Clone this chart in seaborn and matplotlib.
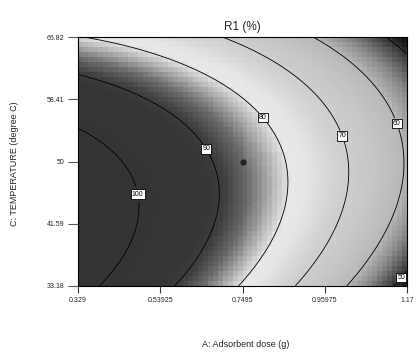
import numpy as np
import matplotlib
matplotlib.use("Agg")
import matplotlib.pyplot as plt
from matplotlib.colors import LinearSegmentedColormap
import seaborn as sns

# axis ticks (actual units)
dose_ticks = [0.329, 0.53925, 0.7495, 0.95975, 1.17]
temp_ticks = [33.18, 41.59, 50, 58.41, 66.82]
dose_labels = ["0.329", "0.53925", "0.7495", "0.95975", "1.17"]
temp_labels = ["33.18", "41.59", "50", "58.41", "66.82"]

# R1 (%) read at each tick crossing; rows = temperature low->high, cols = dose low->high
r1_grid = [
    [102.5, 91.9, 79.2, 64.4, 47.5],
    [106.4, 97.1, 85.7, 72.1, 56.5],
    [104.3, 96.2, 86.0, 73.7, 59.3],
    [95.2, 89.0, 80.3, 69.2, 56.1],
    [79.6, 75.4, 68.4, 58.6, 46.7],
]
levels = [50, 60, 70, 80, 90, 100]
center_dose = [0.7495]
center_temp = [50]
label_spots = [(0.482, 45.6), (0.666, 52.0), (0.802, 56.0),
               (1.012, 53.6), (1.152, 55.3), (1.147, 34.7)]

# grey shading used by the design software (value -> grey level)
shade_vals = [46.5, 48, 52, 56, 60, 66, 72, 77, 79.5, 82, 86, 89.5, 92, 107]
shade_grey = [0.05, 0.10, 0.32, 0.55, 0.72, 0.78, 0.82, 0.90, 0.91, 0.74, 0.42, 0.24, 0.21, 0.20]

sns.set_theme(style="white")
plt.rcParams['font.family'] = ['Liberation Sans', 'DejaVu Sans']

# quadratic response surface through the read values (coded -1..1)
ca, cc = np.meshgrid(np.linspace(-1, 1, 5), np.linspace(-1, 1, 5))
def terms(a, c):
    return np.column_stack([np.ones(a.size), a.ravel(), c.ravel(), (a * c).ravel(),
                            (a ** 2).ravel(), (c ** 2).ravel()])
coef = np.linalg.lstsq(terms(ca, cc), np.array(r1_grid).ravel(), rcond=None)[0]

def to_coded(d, t):
    return (d - 0.7495) / 0.4205, (t - 50) / 16.82

def surface(d, t):
    a, c = to_coded(d, t)
    return (terms(a, c) @ coef).reshape(a.shape)

lo, hi = shade_vals[0], shade_vals[-1]
cmap = LinearSegmentedColormap.from_list(
    "de_grey", [((v - lo) / (hi - lo), (g, g, g)) for v, g in zip(shade_vals, shade_grey)])

fig = plt.figure(figsize=(4.19, 3.56), dpi=100)
ax = fig.add_axes([78 / 419, 70 / 356, 329 / 419, 249 / 356])

# blocky shaded cells
de = np.linspace(dose_ticks[0], dose_ticks[-1], 67)
te = np.linspace(temp_ticks[0], temp_ticks[-1], 51)
dm, tm = np.meshgrid((de[:-1] + de[1:]) / 2, (te[:-1] + te[1:]) / 2)
ax.pcolormesh(de, te, surface(dm, tm), cmap=cmap, vmin=lo, vmax=hi, shading='flat')

# contour lines
df, tf = np.meshgrid(np.linspace(dose_ticks[0], dose_ticks[-1], 300),
                     np.linspace(temp_ticks[0], temp_ticks[-1], 300))
cs = ax.contour(df, tf, surface(df, tf), levels=levels, colors='black', linewidths=0.6)
labels = ax.clabel(cs, fmt='%d', fontsize=5, manual=label_spots, inline=True, inline_spacing=2)
for t in labels:
    t.set_rotation(0)
    t.set_bbox(dict(facecolor='white', edgecolor='black', linewidth=0.6, pad=0.8))

ax.plot(center_dose, center_temp, 'o', color='#222222', markersize=3.5)

ax.set_xlim(dose_ticks[0], dose_ticks[-1])
ax.set_ylim(temp_ticks[0], temp_ticks[-1])
ax.set_xticks(dose_ticks, dose_labels, fontsize=5)
ax.set_yticks(temp_ticks, temp_labels, fontsize=5)
ax.tick_params(axis='x', direction='out', length=5, width=0.8, pad=3, color='#333333', bottom=True)
ax.tick_params(axis='y', direction='out', length=7, width=0.8, pad=3, color='#555555', left=True)
for s in ax.spines.values():
    s.set_color('black')
    s.set_linewidth(0.8)

ax.set_title("R1 (%)", fontsize=8.5, pad=5)
ax.set_xlabel("A: Adsorbent dose (g)", fontsize=6.5)
ax.set_ylabel("C: TEMPERATURE (degree C)", fontsize=6.5)
ax.xaxis.set_label_coords(0.51, -0.215)
ax.yaxis.set_label_coords(-0.18, 0.49)

fig.savefig("out.png", dpi=100)
